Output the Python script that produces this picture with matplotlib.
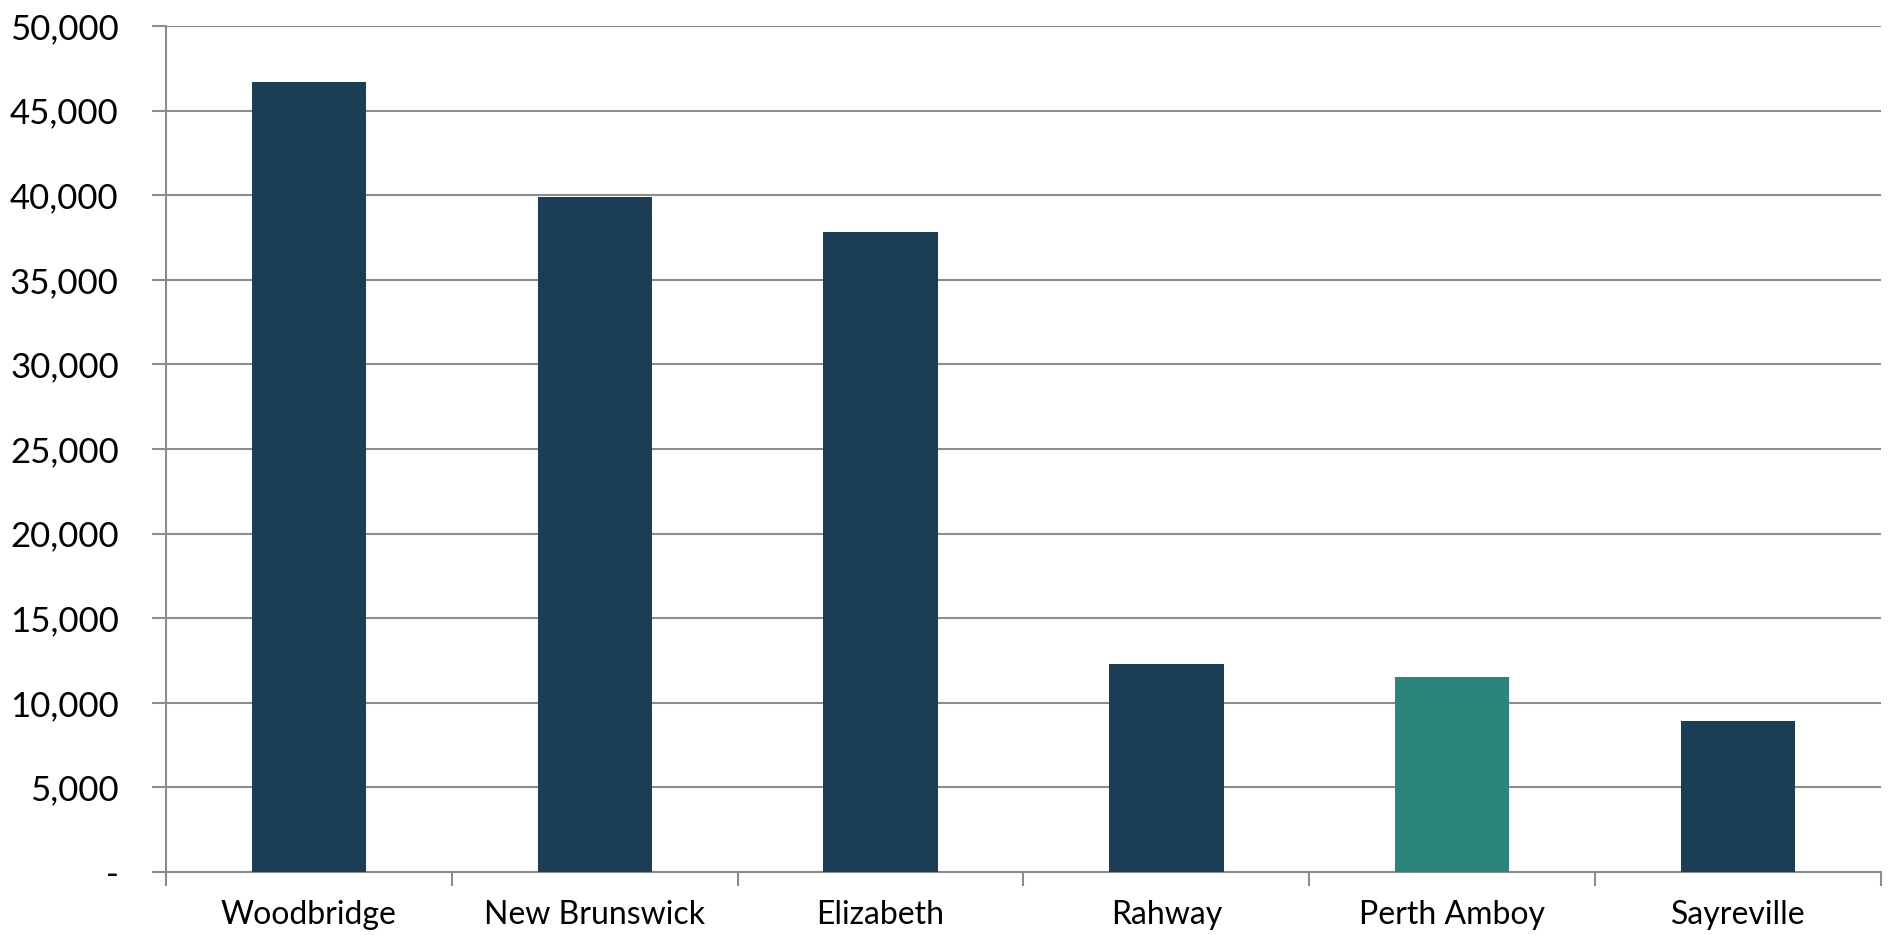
import matplotlib
matplotlib.use("Agg")
import matplotlib.pyplot as plt
from matplotlib.ticker import FuncFormatter

categories = ["Woodbridge", "New Brunswick", "Elizabeth", "Rahway", "Perth Amboy", "Sayreville"]
values = [46700, 39900, 37800, 12300, 11500, 8900]
highlight = "Perth Amboy"
yticks = list(range(0, 50001, 5000))

navy = "#1c3d56"
teal = "#2b857c"
grid_c = "#8c8c8c"

plt.rcParams['font.family'] = ['Lato', 'DejaVu Sans']

fig = plt.figure(figsize=(18.89, 9.35), dpi=100)
ax = fig.add_axes([166/1889, 63/935, (1881-166)/1889, (872-26)/935])

x = list(range(len(categories)))
colors = [teal if c == highlight else navy for c in categories]
ax.bar(x, values, width=0.40, color=colors, zorder=3)

ax.set_xlim(-0.5, len(categories) - 0.5)
ax.set_ylim(0, 50000)
ax.set_yticks(yticks)
ax.yaxis.set_major_formatter(FuncFormatter(lambda v, p: "-" if v == 0 else f"{int(v):,}"))
ax.yaxis.grid(True, color=grid_c, linewidth=1.5, zorder=0)
ax.set_axisbelow(True)

ax.set_xticks(x)
ax.set_xticklabels(categories)
ax.set_xticks([i - 0.5 for i in range(len(categories) + 1)], minor=True)
ax.tick_params(axis='x', which='major', length=0, pad=20, labelsize=23)
ax.tick_params(axis='x', which='minor', length=10, width=1.5, color=grid_c)
ax.tick_params(axis='y', length=10, width=1.5, color=grid_c, pad=24, labelsize=25)

for s in ['top', 'right']:
    ax.spines[s].set_visible(False)
for s in ['left', 'bottom']:
    ax.spines[s].set_color(grid_c)
    ax.spines[s].set_linewidth(1.5)

fig.savefig("out.png", dpi=100, facecolor="white")
